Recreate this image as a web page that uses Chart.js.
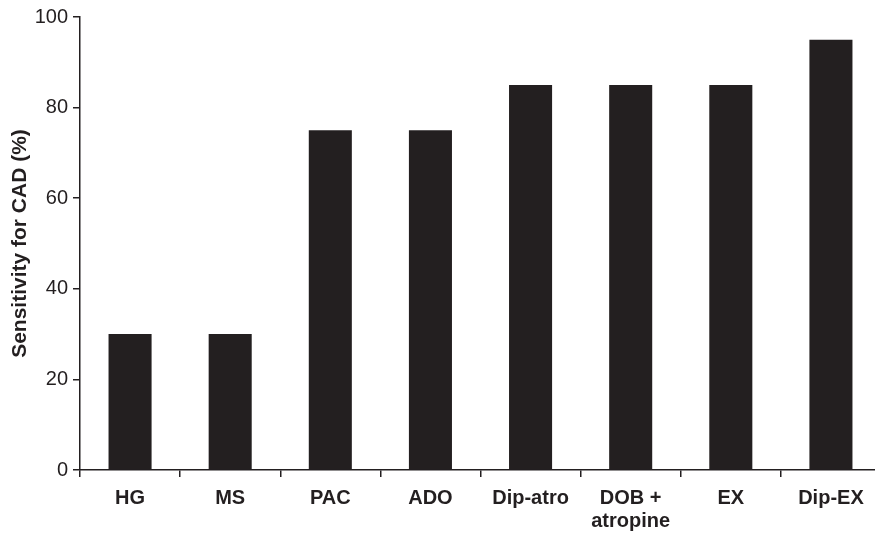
<!DOCTYPE html>
<html>
<head>
<meta charset="utf-8">
<script src="https://cdn.jsdelivr.net/npm/chart.js@4.4.1/dist/chart.umd.min.js"></script>
<style>
  html, body { margin: 0; padding: 0; background: #fff; overflow: hidden; }
  #wrap { width: 875px; height: 536px; overflow: hidden; }
</style>
</head>
<body>
<div id="wrap"><canvas id="chart" width="881" height="536"></canvas></div>
<script>
// --- data ---
const categories = ["HG", "MS", "PAC", "ADO", "Dip-atro", ["DOB +", "atropine"], "EX", "Dip-EX"];
const sensitivity = [30, 30, 75, 75, 85, 85, 85, 95];
const yTicks = [0, 20, 40, 60, 80, 100];

const ink = "#231f20";
const fam = "Liberation Sans, Arial, sans-serif";

new Chart(document.getElementById("chart"), {
    type: "bar",
    data: {
        labels: categories,
        datasets: [{
            data: sensitivity,
            backgroundColor: ink,
            borderWidth: 0,
            barPercentage: 0.43,
            categoryPercentage: 1
        }]
    },
    options: {
        responsive: false,
        animation: false,
        layout: { padding: { top: 16, right: 0, left: 0, bottom: 0 } },
        plugins: { legend: { display: false }, tooltip: { enabled: false } },
        scales: {
            x: {
                offset: true,
                grid: { offset: true, drawOnChartArea: false, drawTicks: true, tickLength: 7, color: ink, lineWidth: 1.5 },
                border: { color: ink, width: 1.5 },
                ticks: {
                    color: ink, padding: 10, maxRotation: 0, autoSkip: false,
                    font: { family: fam, size: 20, weight: "bold", lineHeight: 1.15 }
                },
                afterFit: s => { s.height = 66; }
            },
            y: {
                min: 0, max: 100,
                afterBuildTicks: s => { s.ticks = yTicks.map(v => ({ value: v })); },
                grid: { drawOnChartArea: false, drawTicks: true, tickLength: 7, color: ink, lineWidth: 1.5 },
                border: { color: ink, width: 1.5 },
                ticks: {
                    color: ink, padding: 5,
                    font: { family: fam, size: 20 }
                },
                title: {
                    display: true, text: "Sensitivity for CAD (%)", color: ink,
                    padding: { top: 8, bottom: 0 },
                    font: { family: fam, size: 21, weight: "bold" }
                },
                afterFit: s => { s.width = 80; }
            }
        }
    }
});
</script>
</body>
</html>
